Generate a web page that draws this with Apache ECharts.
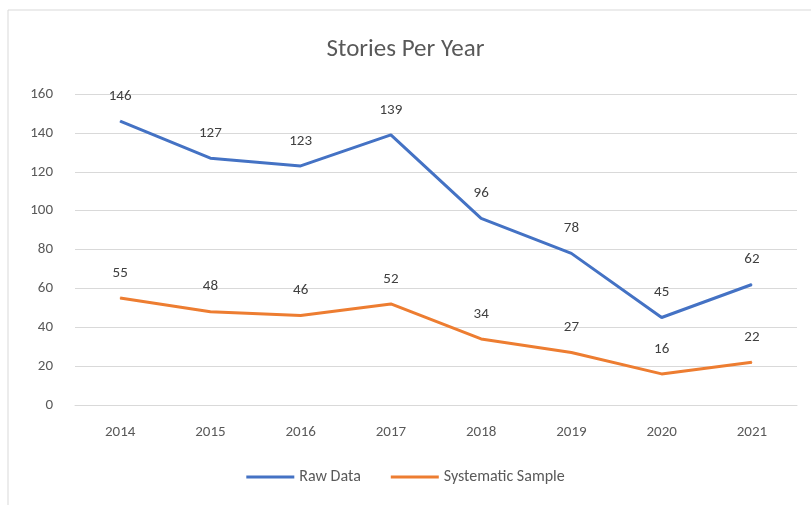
<!DOCTYPE html>
<html>
<head>
<meta charset="utf-8">
<script src="https://cdn.jsdelivr.net/npm/echarts@6/dist/echarts.min.js"></script>
<style>
  html, body { margin: 0; padding: 0; background: #fff; }
  #chart { width: 811px; height: 505px; }
</style>
</head>
<body>
<div id="chart"></div>
<script>
const years = ['2014', '2015', '2016', '2017', '2018', '2019', '2020', '2021'];
const rawData = [146, 127, 123, 139, 96, 78, 45, 62];
const systematicSample = [55, 48, 46, 52, 34, 27, 16, 22];

const chart = echarts.init(document.getElementById('chart'), null, { renderer: 'canvas' });
const font = 'Calibri, Carlito, "Liberation Sans", sans-serif';

function lineSeries(name, data, color) {
  return {
    name: name,
    type: 'line',
    data: data,
    showSymbol: true,
    symbol: 'circle',
    symbolSize: 1,
    lineStyle: { color: color, width: 3 },
    itemStyle: { color: color },
    label: {
      show: true,
      position: 'top',
      distance: 17,
      color: '#404040',
      fontSize: 15,
      fontFamily: font
    }
  };
}

chart.setOption({
  animation: false,
  graphic: [{
    type: 'rect',
    shape: { x: 8, y: 10, width: 820, height: 500 },
    style: { fill: 'none', stroke: '#d9d9d9', lineWidth: 1 }
  }],
  title: {
    text: 'Stories Per Year',
    left: 'center',
    top: 32,
    textStyle: { color: '#595959', fontSize: 25, fontWeight: 'normal', fontFamily: font }
  },
  legend: {
    bottom: 15,
    left: 'center',
    itemWidth: 48,
    itemHeight: 3,
    itemGap: 30,
    icon: 'rect',
    textStyle: { color: '#595959', fontSize: 16, fontFamily: font },
    data: ['Raw Data', 'Systematic Sample']
  },
  grid: { left: 75, right: 14, top: 94, bottom: 100 },
  xAxis: {
    type: 'category',
    data: years,
    boundaryGap: true,
    axisLine: { show: true, lineStyle: { color: '#d9d9d9' } },
    axisTick: { show: false },
    axisLabel: { color: '#595959', fontSize: 15, margin: 20, fontFamily: font }
  },
  yAxis: {
    type: 'value',
    min: 0,
    max: 160,
    interval: 20,
    axisLine: { show: false },
    axisTick: { show: false },
    axisLabel: { color: '#595959', fontSize: 15, margin: 22, fontFamily: font },
    splitLine: { lineStyle: { color: '#d9d9d9' } }
  },
  series: [
    lineSeries('Raw Data', rawData, '#4472C4'),
    lineSeries('Systematic Sample', systematicSample, '#ED7D31')
  ]
});
</script>
</body>
</html>
